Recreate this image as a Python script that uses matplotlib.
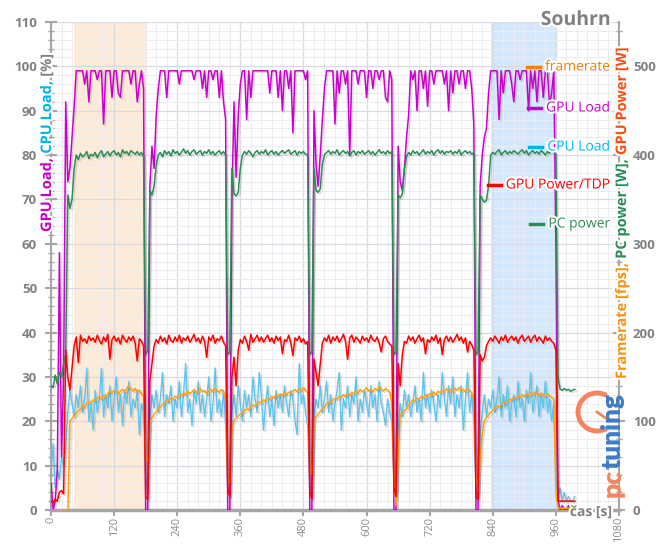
import numpy as np
import matplotlib
matplotlib.use("Agg")
import matplotlib.pyplot as plt
import matplotlib.patheffects as pe
from matplotlib.ticker import MultipleLocator
from matplotlib.patches import Arc

# time axis: one sample every 4 s
time_s = np.arange(0, 1000, 4)

# GPU load [%]
gpu_load = [
    6, 0, 2, 9, 58, 12, 30, 92, 74, 77,
    84, 91, 99, 99, 99, 99, 96, 99, 92, 99,
    99, 99, 97, 99, 99, 87, 99, 99, 99, 93,
    99, 99, 94, 93, 99, 99, 99, 99, 96, 99,
    99, 92, 96, 99, 95, 0, 0, 73, 82, 77,
    89, 95, 99, 99, 99, 93, 99, 99, 99, 99,
    99, 96, 99, 99, 99, 99, 99, 99, 97, 99,
    99, 99, 95, 99, 93, 99, 99, 97, 99, 99,
    93, 99, 92, 88, 0, 0, 70, 92, 75, 89,
    96, 99, 99, 88, 99, 93, 99, 99, 99, 99,
    99, 99, 99, 99, 94, 99, 99, 99, 93, 99,
    90, 99, 99, 95, 99, 85, 99, 99, 99, 99,
    99, 97, 99, 0, 0, 90, 78, 73, 80, 88,
    95, 99, 99, 99, 99, 87, 99, 94, 99, 99,
    96, 99, 80, 99, 99, 99, 96, 99, 99, 99,
    93, 99, 99, 95, 99, 99, 97, 99, 99, 93,
    92, 99, 97, 0, 0, 82, 74, 72, 77, 84,
    89, 99, 97, 99, 90, 99, 99, 95, 99, 91,
    99, 99, 96, 99, 99, 99, 99, 96, 99, 90,
    99, 94, 99, 99, 96, 99, 99, 95, 99, 99,
    95, 87, 0, 0, 73, 80, 84, 86, 94, 99,
    99, 99, 99, 88, 99, 94, 99, 99, 99, 96,
    92, 99, 99, 97, 99, 99, 99, 90, 99, 95,
    99, 92, 99, 99, 93, 99, 99, 91, 94, 99,
    60, 2, 0, 1, 0, 0, 1, 0, 0, 0,
]

# CPU load [%]
cpu_load = [
    8, 15, 5, 9, 7, 12, 10, 14, 22, 27,
    24, 21, 26, 23, 28, 22, 25, 32, 20, 24,
    18, 27, 22, 25, 32, 21, 26, 23, 28, 20,
    25, 30, 22, 26, 19, 27, 24, 29, 21, 25,
    23, 27, 17, 24, 22, 8, 4, 20, 26, 23,
    27, 22, 25, 31, 21, 26, 24, 28, 20, 25,
    23, 29, 21, 26, 33, 22, 25, 19, 27, 24,
    29, 22, 26, 21, 25, 30, 20, 24, 32, 22,
    25, 21, 27, 19, 5, 3, 22, 26, 21, 28,
    24, 20, 27, 23, 26, 21, 30, 25, 22, 31,
    26, 18, 24, 28, 21, 25, 19, 27, 23, 26,
    22, 28, 24, 21, 27, 25, 20, 17, 33, 24,
    26, 22, 19, 6, 3, 21, 25, 23, 28, 22,
    25, 29, 22, 26, 20, 24, 27, 31, 18, 25,
    23, 28, 21, 26, 24, 30, 20, 25, 22, 27,
    24, 21, 28, 23, 26, 20, 29, 24, 22, 19,
    25, 22, 20, 7, 4, 18, 24, 21, 27, 23,
    26, 21, 24, 28, 22, 25, 20, 31, 23, 26,
    22, 27, 24, 20, 26, 23, 31, 25, 21, 28,
    24, 30, 21, 26, 23, 28, 18, 25, 31, 22,
    26, 20, 5, 3, 17, 22, 26, 21, 25, 23,
    27, 22, 25, 30, 21, 26, 23, 28, 20, 24,
    26, 21, 29, 23, 25, 20, 27, 24, 31, 22,
    25, 28, 21, 26, 23, 29, 22, 25, 20, 24,
    8, 3, 5, 2, 4, 2, 3, 2, 2, 3,
]

# GPU power [W]
gpu_power = [
    10, 8, 12, 10, 20, 22, 18, 180, 150, 135,
    160, 185, 195, 166, 197, 190, 193, 188, 196, 191,
    194, 189, 197, 191, 187, 195, 190, 198, 170, 192,
    196, 190, 194, 187, 197, 192, 189, 195, 191, 196,
    188, 168, 193, 190, 185, 15, 12, 145, 165, 185,
    192, 188, 196, 190, 194, 187, 197, 191, 189, 195,
    190, 197, 188, 194, 191, 196, 189, 193, 198, 190,
    194, 188, 196, 190, 172, 195, 191, 197, 188, 193,
    191, 196, 189, 185, 25, 15, 150, 172, 140, 180,
    192, 188, 196, 190, 180, 198, 189, 193, 197, 190,
    195, 189, 193, 197, 190, 194, 188, 196, 191, 195,
    176, 192, 190, 197, 188, 174, 194, 191, 196, 189,
    193, 187, 190, 20, 12, 170, 155, 140, 165, 188,
    194, 190, 197, 188, 195, 191, 196, 189, 193, 198,
    190, 170, 194, 197, 189, 195, 192, 188, 196, 191,
    194, 189, 197, 192, 190, 195, 188, 178, 193, 196,
    190, 187, 185, 25, 15, 165, 140, 175, 190, 188,
    196, 191, 195, 188, 193, 197, 190, 194, 176, 192,
    189, 195, 191, 197, 188, 194, 175, 192, 196, 190,
    195, 189, 193, 198, 191, 195, 188, 194, 178, 190,
    186, 180, 15, 12, 175, 168, 172, 185, 190, 194,
    190, 196, 192, 188, 195, 191, 197, 189, 193, 196,
    191, 195, 188, 194, 197, 190, 193, 196, 189, 194,
    197, 190, 195, 192, 188, 196, 191, 194, 190, 188,
    180, 10, 10, 10, 10, 10, 10, 10, 10, 10,
]

# PC power [W]
pc_power = [
    140, 138, 152, 142, 155, 150, 165, 175, 355, 340,
    350, 385, 400, 395, 402, 398, 400, 404, 396, 401,
    399, 403, 397, 402, 405, 398, 401, 404, 399, 403,
    405, 400, 403, 398, 406, 402, 404, 400, 405, 403,
    401, 404, 400, 403, 398, 175, 180, 360, 355, 365,
    388, 400, 403, 398, 405, 401, 404, 399, 406, 402,
    404, 400, 403, 407, 402, 405, 400, 404, 406, 401,
    403, 405, 400, 404, 402, 406, 401, 404, 400, 403,
    405, 401, 404, 400, 175, 178, 385, 356, 354, 358,
    385, 400, 404, 401, 405, 402, 398, 403, 405, 401,
    404, 402, 406, 400, 403, 405, 401, 404, 400, 403,
    405, 402, 404, 406, 401, 403, 405, 400, 404, 402,
    404, 401, 400, 175, 178, 385, 360, 358, 362, 390,
    400, 403, 405, 401, 404, 402, 406, 400, 403, 405,
    402, 404, 399, 403, 405, 400, 404, 402, 405, 401,
    403, 405, 401, 404, 400, 403, 406, 402, 404, 401,
    405, 402, 404, 175, 178, 355, 352, 356, 385, 398,
    403, 400, 405, 402, 404, 400, 403, 406, 401, 404,
    402, 405, 400, 404, 406, 402, 405, 401, 404, 403,
    405, 401, 404, 402, 406, 400, 403, 405, 402, 404,
    401, 403, 175, 178, 355, 350, 347, 349, 365, 400,
    403, 401, 404, 406, 400, 403, 405, 401, 404, 402,
    405, 403, 401, 404, 406, 402, 405, 400, 403, 405,
    402, 404, 401, 405, 403, 400, 404, 402, 405, 403,
    401, 150, 136, 135, 137, 135, 136, 134, 135, 136,
]

# framerate [fps]
framerate = [
    0, 0, 0, 0, 0, 0, 0, 0, 0, 100,
    103, 106, 109, 112, 113, 118, 116, 120, 122, 121,
    124, 123, 126, 128, 125, 129, 127, 131, 134, 132,
    135, 133, 131, 134, 136, 133, 137, 140, 136, 134,
    137, 133, 135, 131, 128, 60, 55, 100, 104, 108,
    110, 114, 116, 119, 121, 124, 123, 126, 125, 128,
    127, 130, 129, 132, 130, 134, 131, 133, 136, 132,
    134, 137, 133, 135, 131, 134, 136, 133, 137, 135,
    132, 136, 133, 125, 35, 30, 93, 100, 104, 106,
    108, 110, 112, 114, 113, 116, 118, 117, 120, 122,
    121, 124, 123, 126, 125, 128, 126, 130, 128, 131,
    129, 132, 130, 133, 131, 134, 136, 133, 137, 134,
    138, 135, 132, 50, 40, 100, 105, 108, 111, 114,
    116, 119, 122, 121, 124, 126, 125, 128, 127, 130,
    128, 131, 129, 133, 131, 134, 132, 136, 133, 135,
    138, 134, 136, 133, 137, 135, 139, 136, 134, 137,
    135, 133, 120, 40, 5, 60, 108, 110, 112, 114,
    118, 121, 124, 123, 126, 125, 128, 126, 130, 128,
    131, 129, 133, 130, 134, 132, 135, 133, 137, 134,
    136, 133, 137, 135, 138, 134, 136, 133, 137, 135,
    132, 125, 40, 20, 60, 85, 100, 104, 107, 110,
    112, 115, 117, 116, 119, 121, 120, 123, 125, 124,
    127, 126, 129, 127, 130, 128, 131, 129, 132, 130,
    133, 131, 129, 132, 130, 128, 131, 129, 127, 125,
    20, 2, 2, 2, 2, 2, 2, 2, 2, 2,
]

# highlighted sections [s]
span_orange = (44, 180)
span_blue = (836, 960)

W, H = 660, 545
GRAY = '#808080'
FONT = 'Open Sans'

fig = plt.figure(figsize=(W / 100, H / 100), dpi=100)
ax = fig.add_axes([51 / W, 1 - 510 / H, 568 / W, 488 / H])
ax2 = ax.twinx()

shadow = [pe.SimpleLineShadow(offset=(1.2, -1.2), alpha=0.12, shadow_color='k'), pe.Normal()]

ax.axvspan(*span_orange, color='#fdebd9', zorder=0.1, lw=0)
ax.axvspan(*span_blue, color='#d6e8fb', zorder=0.1, lw=0)

ax.plot(time_s, gpu_load, color='#cc00cc', lw=1.1, path_effects=shadow, zorder=3)
ax.plot(time_s, cpu_load, color='#5ec4ee', lw=1.0, path_effects=shadow, zorder=2)
ax2.plot(time_s, pc_power, color='#2e8b57', lw=1.1, path_effects=shadow, zorder=2)
ax2.plot(time_s, framerate, color='#ffa010', lw=1.1, path_effects=shadow, zorder=3)
ax2.plot(time_s, gpu_power, color='#ff0000', lw=1.1, path_effects=shadow, zorder=4)

ax.set_xlim(0, 1080)
ax.set_ylim(0, 110)
ax2.set_ylim(0, 550)

ax.set_xticks(range(0, 1081, 120))
ax.xaxis.set_minor_locator(MultipleLocator(20))
ax.set_yticks(range(0, 111, 10))
ax.yaxis.set_minor_locator(MultipleLocator(2))
ax2.set_yticks(range(0, 501, 100))
ax2.yaxis.set_minor_locator(MultipleLocator(20))

ax.set_axisbelow(True)
ax.grid(which='major', color='#d8dbe5', lw=0.9, zorder=0.5)
ax.grid(which='minor', color='#ececf1', lw=0.7, zorder=0.4)

for a in (ax, ax2):
    a.spines['top'].set_visible(False)
ax.spines['right'].set_visible(False)
ax2.spines['left'].set_visible(False)
ax2.spines['bottom'].set_visible(False)
ax.spines['left'].set_color('#a6a6a6')
ax.spines['left'].set_linewidth(1.5)
ax.spines['bottom'].set_color('#a6a6a6')
ax.spines['bottom'].set_linewidth(2.5)
ax2.spines['right'].set_color('#a6a6a6')
ax2.spines['right'].set_linewidth(1.5)

ax.tick_params(axis='y', which='major', direction='inout', length=8, width=1.5, color='#a6a6a6',
               labelsize=9.5, labelcolor=GRAY, pad=6)
ax.tick_params(axis='y', which='minor', direction='inout', length=4, width=1, color='#a6a6a6')
ax.tick_params(axis='x', which='major', direction='out', length=4, width=1.5, color='#a6a6a6',
               labelsize=8, labelcolor='#8c8c8c', labelrotation=90, pad=1)
ax.tick_params(axis='x', which='minor', length=0)
ax2.tick_params(axis='y', which='major', direction='inout', length=8, width=1.5, color='#a6a6a6',
                labelsize=9.5, labelcolor=GRAY, pad=6)
ax2.tick_params(axis='y', which='minor', direction='inout', length=4, width=1, color='#a6a6a6')
for lab in ax.get_yticklabels() + ax2.get_yticklabels():
    lab.set_fontfamily(FONT)
    lab.set_fontweight('bold')
for lab in ax.get_xticklabels():
    lab.set_fontfamily(FONT)

glow = [pe.withStroke(linewidth=3, foreground='white')]
renderer = fig.canvas.get_renderer()


def stacked_label(x_px, y_px, pieces, size, weight='bold', family=FONT, glow_on=True, z=10):
    # rotated multi-coloured label, stacked from the bottom up
    y = H - y_px
    for s, c in pieces:
        t = fig.text(x_px / W, y / H, s, color=c, rotation=90, ha='center', va='bottom',
                     fontsize=size, fontweight=weight, fontfamily=family,
                     path_effects=glow if glow_on else None, zorder=z)
        y += t.get_window_extent(renderer).height


stacked_label(47, 232, [('GPU Load,', '#cc00cc'), (' CPU Load,', '#00b4f0'), (' [%]', GRAY)], 10.5)
stacked_label(622, 379, [('Framerate [fps],', '#f39415'), (' PC power [W],', '#2e8b57'),
                         (' GPU Power [W]', '#ff4a10')], 10.5)

# legend: right aligned text with a short coloured dash in front
legend_items = [('framerate', '#ff8000', '#f57c00', 67), ('GPU Load', '#cc00cc', '#cc00cc', 108),
                ('CPU Load', '#00b4f0', '#00b4f0', 147), ('GPU Power/TDP', '#ff0000', '#ff0000', 185),
                ('PC power', '#2e8b57', '#2e8b57', 224)]
for label, line_c, text_c, ypx in legend_items:
    t = fig.text(610 / W, 1 - ypx / H, label, color=text_c, ha='right', va='center', fontsize=10,
                 fontfamily=FONT, path_effects=glow, zorder=10)
    bb = t.get_window_extent(renderer)
    x1 = bb.x0 - 5
    fig.add_artist(plt.Line2D([(x1 - 13) / W, x1 / W], [1 - ypx / H] * 2, color=line_c, lw=2.5,
                              transform=fig.transFigure, zorder=10))

fig.text(611 / W, 1 - 20 / H, 'Souhrn', color=GRAY, ha='right', va='center', fontsize=14,
         fontweight='bold', fontfamily=FONT, path_effects=glow)
fig.text(612 / W, 1 - 512 / H, 'čas [s]', color=GRAY, ha='right', va='center', fontsize=10,
         fontweight='bold', fontfamily=FONT, path_effects=glow, zorder=10)

# pctuning logo
stacked_label(613, 497, [('pc', '#f4845f'), ('tuning', '#3d7cc9')], 19, weight='heavy',
              family='Lato', glow_on=False, z=9)
fig.add_artist(Arc((5.97, 1.33), 0.38, 0.38, theta1=60, theta2=300, color='#f4845f', lw=3.5,
                   transform=fig.dpi_scale_trans, zorder=9))
fig.add_artist(plt.Line2D([5.97, 6.07], [1.33, 1.26], color='#f4845f', lw=2,
                          transform=fig.dpi_scale_trans, zorder=9))

fig.savefig('out.png', dpi=100)
